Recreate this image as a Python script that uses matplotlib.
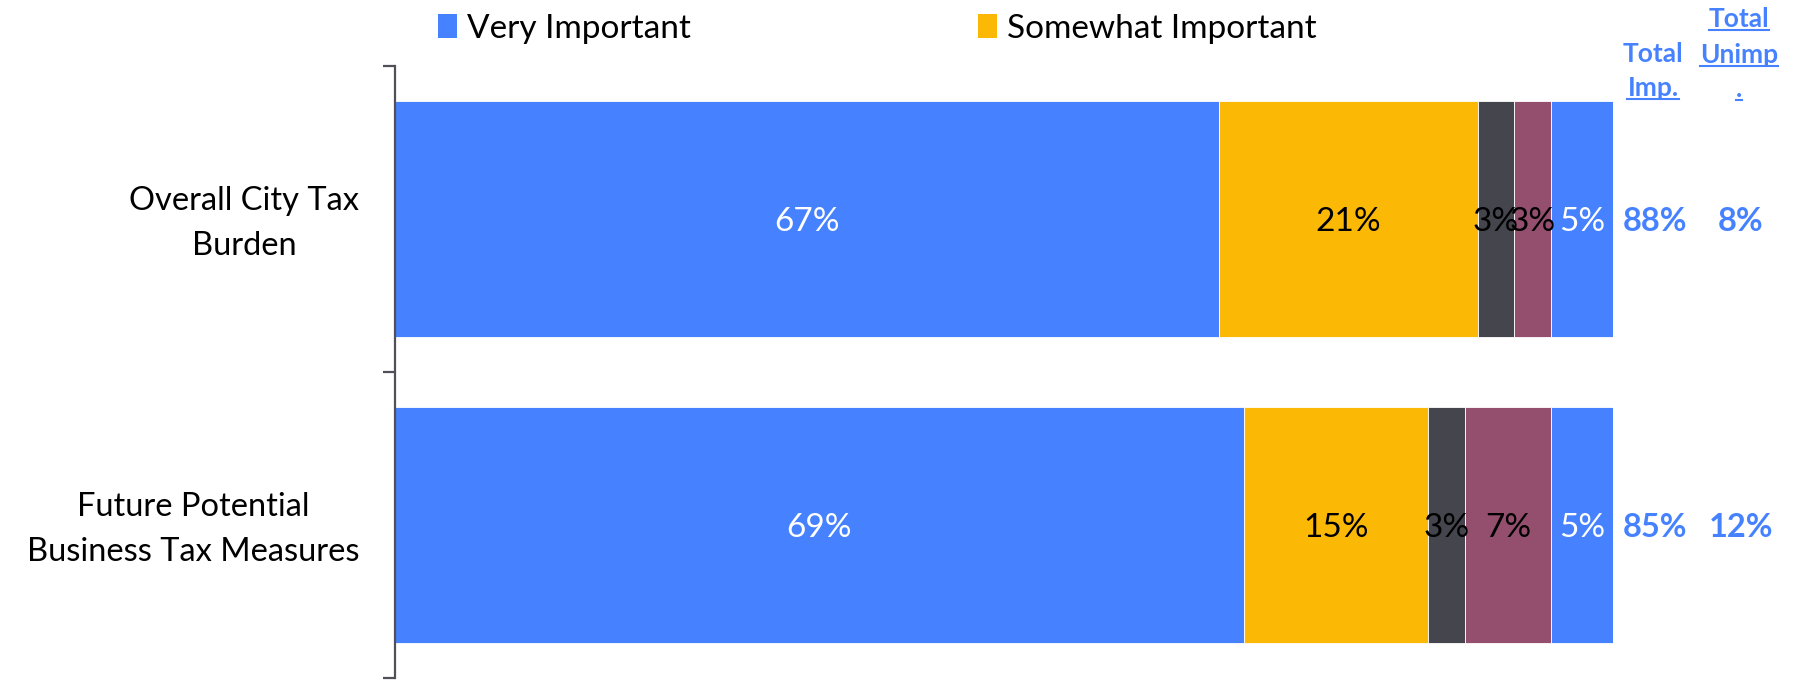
import matplotlib
matplotlib.use("Agg")
import matplotlib.pyplot as plt
from matplotlib.patches import Patch
from matplotlib.lines import Line2D
import matplotlib.transforms as mtransforms

plt.rcParams['font.family'] = ['Lato', 'DejaVu Sans']

categories = ["Overall City Tax\nBurden", "Future Potential\nBusiness Tax Measures"]
series_names = ["Very Important", "Somewhat Important", "Not Too Important",
                "Not At All Important", "Don't Know"]
very_important = [67, 69]
somewhat_important = [21, 15]
not_too_important = [3, 3]
not_at_all_important = [3, 7]
dont_know = [5, 5]
total_imp = ["88%", "85%"]
total_unimp = ["8%", "12%"]

series = [very_important, somewhat_important, not_too_important,
          not_at_all_important, dont_know]
colors = ["#4682FF", "#FBB905", "#45454D", "#944F6E", "#4682FF"]
label_colors = ["white", "black", "black", "black", "white"]
accent = "#4682FF"

fig = plt.figure(figsize=(17.96, 6.8), dpi=100)
ax = fig.add_axes([0.22, 0.003, 0.678, 0.900])

ypos = list(range(len(categories)))
left = [0.0] * len(categories)
for vals, col, lc in zip(series, colors, label_colors):
    bars = ax.barh(ypos, vals, left=left, height=0.77, color=col,
                   edgecolor="white", linewidth=0.6)
    for b, v in zip(bars, vals):
        ax.text(b.get_x() + b.get_width() / 2, b.get_y() + b.get_height() / 2,
                f"{v}%", ha="center", va="center_baseline", fontsize=24,
                color=lc)
    left = [l + v for l, v in zip(left, vals)]

total = max(left)
ax.set_xlim(0, total)
ax.set_ylim(1.5, -0.5)

for s in ["top", "right", "bottom"]:
    ax.spines[s].set_visible(False)
ax.spines["left"].set_color("#505058")
ax.spines["left"].set_linewidth(1.6)
ax.set_xticks([])
ax.set_yticks([-0.5, 0.5, 1.5])
ax.set_yticklabels([])
ax.tick_params(axis="y", which="major", length=9, width=1.6, color="#505058",
               direction="out")
ax.set_yticks(ypos, minor=True)
ax.set_yticklabels(categories, minor=True, fontsize=23.5,
                   multialignment="center", linespacing=1.6)
ax.tick_params(axis="y", which="minor", length=0, pad=26)
lift = mtransforms.ScaledTranslation(0, 4 / 72, fig.dpi_scale_trans)
for lbl in ax.get_yticklabels(minor=True):
    lbl.set_transform(lbl.get_transform() + lift)

# summary columns to the right of the bars
val_x = [1.0348, 1.105]
for i, (ti, tu) in enumerate(zip(total_imp, total_unimp)):
    for x, s in zip(val_x, (ti, tu)):
        ax.text(x, ypos[i], s, transform=ax.get_yaxis_transform(),
                ha="center", va="center_baseline", fontsize=23.5,
                fontweight="bold", color=accent)

hdr_kw = dict(ha="center", va="baseline", fontsize=19, fontweight="bold",
              color=accent, transform=ax.transAxes)
hdr_x = [1.033, 1.1035]
ax.text(hdr_x[0], 1.0065, "Total", **hdr_kw)
underlined = [
    ax.text(hdr_x[0], 0.951, "Imp.", **hdr_kw),
    ax.text(hdr_x[1], 1.0637, "Total", **hdr_kw),
    ax.text(hdr_x[1], 1.0049, "Unimp", **hdr_kw),
    ax.text(hdr_x[1], 0.9493, ".", **hdr_kw),
]

handles = [Patch(facecolor=colors[0], label=series_names[0]),
           Patch(facecolor=colors[1], label=series_names[1])]
fig.legend(handles=handles, loc="center left", bbox_to_anchor=(0.227, 0.958),
           ncol=2, frameon=False, fontsize=24, handlelength=0.58,
           handleheight=0.75, handletextpad=0.3, columnspacing=8.6)

# underline the header words
fig.canvas.draw()
renderer = fig.canvas.get_renderer()
inv = fig.transFigure.inverted()
for t in underlined:
    bb = t.get_window_extent(renderer)
    base_y = ax.transAxes.transform(t.get_position())[1]
    (x0, y0), (x1, _) = inv.transform([(bb.x0, base_y - 3), (bb.x1, base_y - 3)])
    fig.add_artist(Line2D([x0, x1], [y0, y0], color=accent, linewidth=1.5,
                          transform=fig.transFigure))

fig.savefig("out.png", dpi=100)
